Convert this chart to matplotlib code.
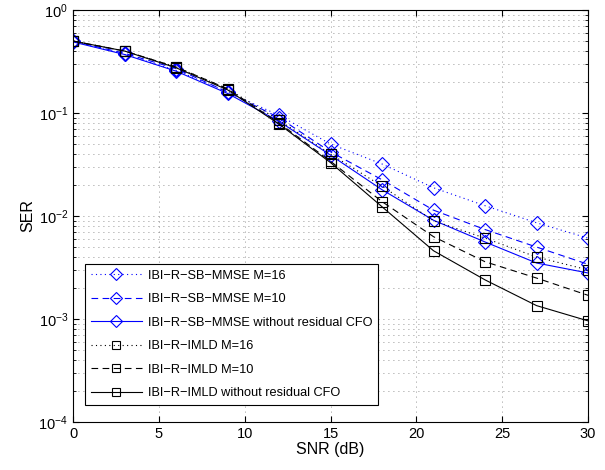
import numpy as np
import matplotlib; matplotlib.use('Agg')
import matplotlib.pyplot as plt
from matplotlib.ticker import LogLocator, NullFormatter

plt.rcParams['font.family'] = ['Liberation Sans', 'DejaVu Sans']

snr = [0, 3, 6, 9, 12, 15, 18, 21, 24, 27, 30]
mmse_m16 = [0.50, 0.37, 0.26, 0.16, 0.095, 0.050, 0.032, 0.0188, 0.0126, 0.0086, 0.0061]
mmse_m10 = [0.50, 0.38, 0.27, 0.16, 0.090, 0.042, 0.0225, 0.0114, 0.0074, 0.0050, 0.0034]
mmse_nocfo = [0.49, 0.37, 0.255, 0.155, 0.083, 0.039, 0.018, 0.0091, 0.0056, 0.0035, 0.0028]
imld_m16 = [0.50, 0.40, 0.28, 0.172, 0.085, 0.040, 0.0195, 0.0090, 0.0061, 0.0040, 0.0030]
imld_m10 = [0.50, 0.40, 0.28, 0.172, 0.080, 0.034, 0.0138, 0.0063, 0.0036, 0.0025, 0.0017]
imld_nocfo = [0.50, 0.40, 0.275, 0.168, 0.078, 0.033, 0.0123, 0.0046, 0.0024, 0.00135, 0.00096]
labels = ['IBI\u2212R\u2212SB\u2212MMSE M=16', 'IBI\u2212R\u2212SB\u2212MMSE M=10',
          'IBI\u2212R\u2212SB\u2212MMSE without residual CFO', 'IBI\u2212R\u2212IMLD M=16',
          'IBI\u2212R\u2212IMLD M=10', 'IBI\u2212R\u2212IMLD without residual CFO']

BLUE, BLACK = '#0000ff', '#000000'
fig = plt.figure(figsize=(6.05, 4.7), dpi=100)
ax = fig.add_axes([0.1207, 0.102, 0.8513, 0.8767])

series = [(mmse_m16, BLUE, (0, (1, 3)), 'D', 7.5), (mmse_m10, BLUE, (0, (6, 4)), 'D', 7.5),
          (mmse_nocfo, BLUE, '-', 'D', 7.5), (imld_m16, BLACK, (0, (1, 3)), 's', 6.5),
          (imld_m10, BLACK, (0, (6, 4)), 's', 6.5), (imld_nocfo, BLACK, '-', 's', 6.5)]
for (vals, col, ls, mk, ms), lab in zip(series, labels):
    ax.semilogy(snr, vals, color=col, linestyle=ls, linewidth=0.8, marker=mk, markersize=ms,
                markerfacecolor='none', markeredgecolor=col, markeredgewidth=0.8, label=lab)

ax.set_xlim(0, 30); ax.set_ylim(1e-4, 1e0)
ax.set_xticks([0, 5, 10, 15, 20, 25, 30])
ax.yaxis.set_major_locator(LogLocator(base=10, numticks=10))
ax.yaxis.set_minor_locator(LogLocator(base=10, subs=np.arange(2, 10), numticks=10))
ax.yaxis.set_minor_formatter(NullFormatter())
ax.grid(True, which='major', color='k', linestyle=(0, (1, 5)), linewidth=0.6, alpha=0.55)
ax.grid(True, which='minor', axis='y', color='k', linestyle=(0, (1, 5)), linewidth=0.6, alpha=0.55)
ax.tick_params(which='both', direction='in', top=True, right=True, labelsize=10.5)
ax.tick_params(which='major', length=4); ax.tick_params(which='minor', length=2)
for s in ax.spines.values():
    s.set_linewidth(0.8)
ax.set_xlabel('SNR (dB)', fontsize=11.5, labelpad=1)
ax.set_ylabel('SER', fontsize=11.5, labelpad=2)

leg = ax.legend(loc='lower left', bbox_to_anchor=(0.023, 0.041), borderaxespad=0, fontsize=9.2,
                handlelength=4.0, handletextpad=0.5, fancybox=False, edgecolor='k', framealpha=1,
                labelspacing=0.9, borderpad=0.45, markerscale=0.85)
leg.get_frame().set_linewidth(0.8)

fig.savefig('out.png', dpi=100)
